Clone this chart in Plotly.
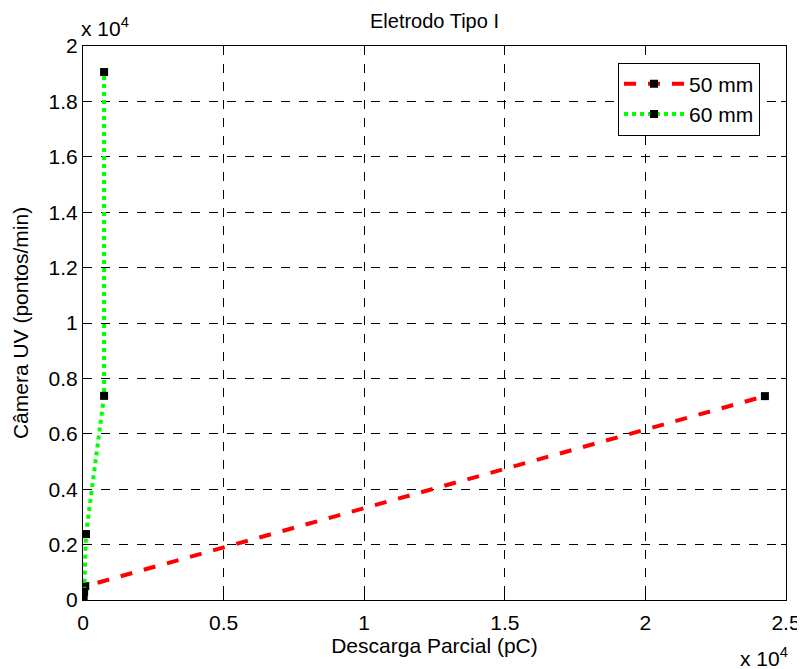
import plotly.graph_objects as go

x50 = [20, 80, 24250]
y50 = [100, 500, 7360]
x60 = [10, 40, 107, 750, 750]
y60 = [50, 300, 2380, 7370, 19060]

xticks = [0, 5000, 10000, 15000, 20000, 25000]
xtick_text = ["0", "0.5", "1", "1.5", "2", "2.5"]
yticks = [0, 2000, 4000, 6000, 8000, 10000, 12000, 14000, 16000, 18000, 20000]
ytick_text = ["0", "0.2", "0.4", "0.6", "0.8", "1", "1.2", "1.4", "1.6", "1.8", "2"]

font = "Liberation Sans, Arial, Helvetica, sans-serif"
fs = 21

fig = go.Figure()
fig.add_trace(go.Scatter(x=x50, y=y50, mode="lines+markers", name="50 mm",
                         line=dict(color="#ff0000", width=4, dash="dash"),
                         marker=dict(symbol="square", size=8, color="black")))
fig.add_trace(go.Scatter(x=x60, y=y60, mode="lines+markers", name="60 mm",
                         line=dict(color="#00ff00", width=4, dash="dot"),
                         marker=dict(symbol="square", size=8, color="black")))

axis_common = dict(showline=True, linecolor="black", linewidth=1, mirror="ticks",
                   ticks="inside", ticklen=5, tickcolor="black",
                   showgrid=True, gridcolor="black", griddash="dash", gridwidth=0.6,
                   zeroline=False, automargin=False,
                   tickfont=dict(family=font, size=fs, color="black"))

fig.update_xaxes(range=[0, 25000], tickvals=xticks, ticktext=xtick_text, ticklabelstandoff=4,
                 title=dict(text="Descarga Parcial (pC)", font=dict(family=font, size=fs, color="black"), standoff=0),
                 **axis_common)
fig.update_yaxes(range=[0, 20000], tickvals=yticks, ticktext=ytick_text,
                 title=dict(text="Câmera UV (pontos/min)", font=dict(family=font, size=fs, color="black"), standoff=14),
                 **axis_common)

fig.add_annotation(xref="paper", yref="paper", x=0, y=1, xanchor="left", yanchor="bottom",
                   text="x 10<sup>4</sup>", showarrow=False, yshift=4, xshift=-4,
                   font=dict(family=font, size=fs, color="black"))
fig.add_annotation(xref="paper", yref="paper", x=1, y=0, xanchor="right", yanchor="top",
                   text="x 10<sup>4</sup>", showarrow=False, yshift=-42, xshift=4,
                   font=dict(family=font, size=fs, color="black"))
fig.add_annotation(xref="paper", yref="paper", x=0.5, y=1, xanchor="center", yanchor="bottom",
                   text="Eletrodo Tipo I", showarrow=False, yshift=12,
                   font=dict(family=font, size=20, color="black"))

fig.update_layout(
    width=805, height=669,
    margin=dict(l=75, r=27, t=38, b=77, autoexpand=False),
    paper_bgcolor="white", plot_bgcolor="white",
    showlegend=True,
    legend=dict(x=0.963, y=0.97, xanchor="right", yanchor="top",
                bgcolor="white", bordercolor="black", borderwidth=1,
                font=dict(family=font, size=fs, color="black"),
                itemwidth=60, tracegroupgap=2),
)

fig.write_html("out.html")
